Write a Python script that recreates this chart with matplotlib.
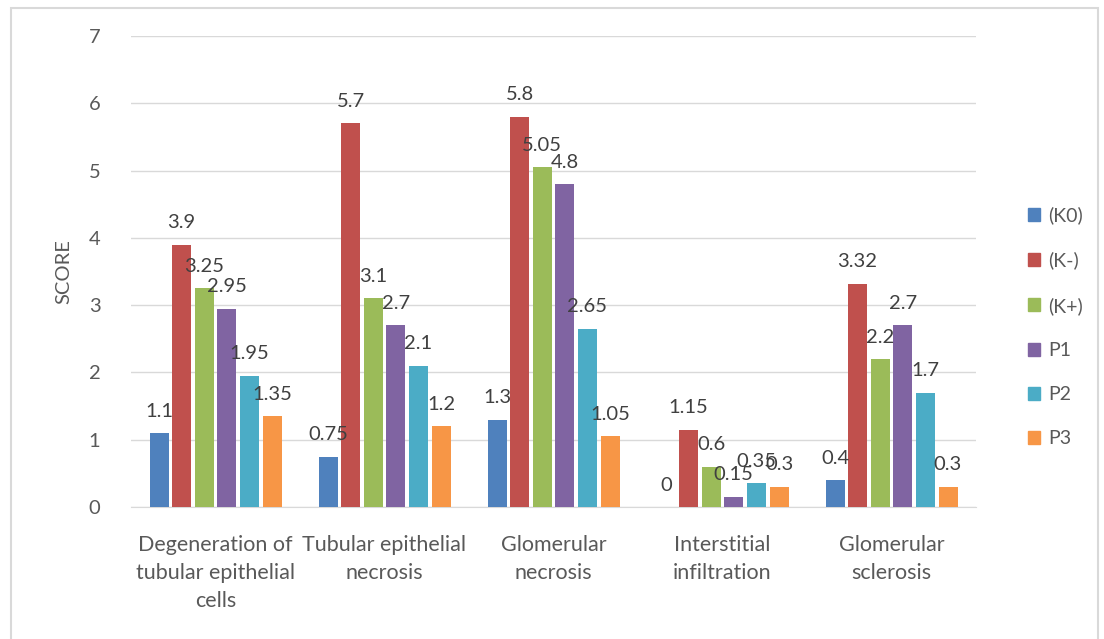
import numpy as np
import matplotlib
matplotlib.use("Agg")
import matplotlib.pyplot as plt
from matplotlib.patches import Rectangle

plt.rcParams['font.family'] = ['Lato', 'DejaVu Sans']

categories = ["Degeneration of\ntubular epithelial\ncells", "Tubular epithelial\nnecrosis",
              "Glomerular\nnecrosis", "Interstitial\ninfiltration", "Glomerular\nsclerosis"]
series = ["(K0)", "(K-)", "(K+)", "P1", "P2", "P3"]
k0 = [1.1, 0.75, 1.3, 0, 0.4]
k_minus = [3.9, 5.7, 5.8, 1.15, 3.32]
k_plus = [3.25, 3.1, 5.05, 0.6, 2.2]
p1 = [2.95, 2.7, 4.8, 0.15, 2.7]
p2 = [1.95, 2.1, 2.65, 0.35, 1.7]
p3 = [1.35, 1.2, 1.05, 0.3, 0.3]
colors = ["#4F81BD", "#C0504D", "#9BBB59", "#8064A2", "#4BACC6", "#F79646"]

data = [k0, k_minus, k_plus, p1, p2, p3]

fig = plt.figure(figsize=(11.04, 6.39), dpi=100)
ax = fig.add_axes([131/1104, 1-507/639, 845/1104, 471/639])

# outer chart border (pixel coords)
fig.patches.append(Rectangle((11/1104, -0.05), 1087/1104, 1 - 8/639 + 0.05,
                             transform=fig.transFigure, fill=False,
                             edgecolor="#D9D9D9", linewidth=1.5))

x = np.arange(len(categories))
slot = 22.6/169
bw = 19/169
txt = "#404040"
for i, (vals, c) in enumerate(zip(data, colors)):
    pos = x + (i - 2.5)*slot
    ax.bar(pos, vals, width=bw, color=c, label=series[i], zorder=3)
    for px_, v in zip(pos, vals):
        ax.text(px_, v + 0.2, f"{v:g}", ha="center", va="bottom",
                fontsize=14.5, color=txt, zorder=4)

ax.set_xlim(-0.5, len(categories) - 0.5)
ax.set_ylim(0, 7)
ax.set_yticks(range(8))
ax.yaxis.grid(True, color="#D9D9D9", linewidth=1)
ax.set_axisbelow(True)
for s in ["top", "right", "left"]:
    ax.spines[s].set_visible(False)
ax.spines["bottom"].set_color("#D9D9D9")
ax.tick_params(axis="both", length=0, labelsize=14.5, labelcolor="#595959")
ax.tick_params(axis="y", pad=22)
ax.set_xticks(x)
ax.set_xticklabels(categories, linespacing=1.5, fontsize=15.5)
ax.tick_params(axis="x", pad=20)
ax.set_ylabel("SCORE", fontsize=14.5, color="#595959", labelpad=12)

handles = [Rectangle((0, 0), 1, 1, color=c) for c in colors]
leg = fig.legend(handles, series, loc="center left",
                 bbox_to_anchor=(1010/1104, 1-327/639), frameon=False,
                 fontsize=14, labelcolor="#595959", handlelength=0.65,
                 handleheight=0.65, handletextpad=0.4, labelspacing=1.4)

fig.savefig("out.png", dpi=100)
